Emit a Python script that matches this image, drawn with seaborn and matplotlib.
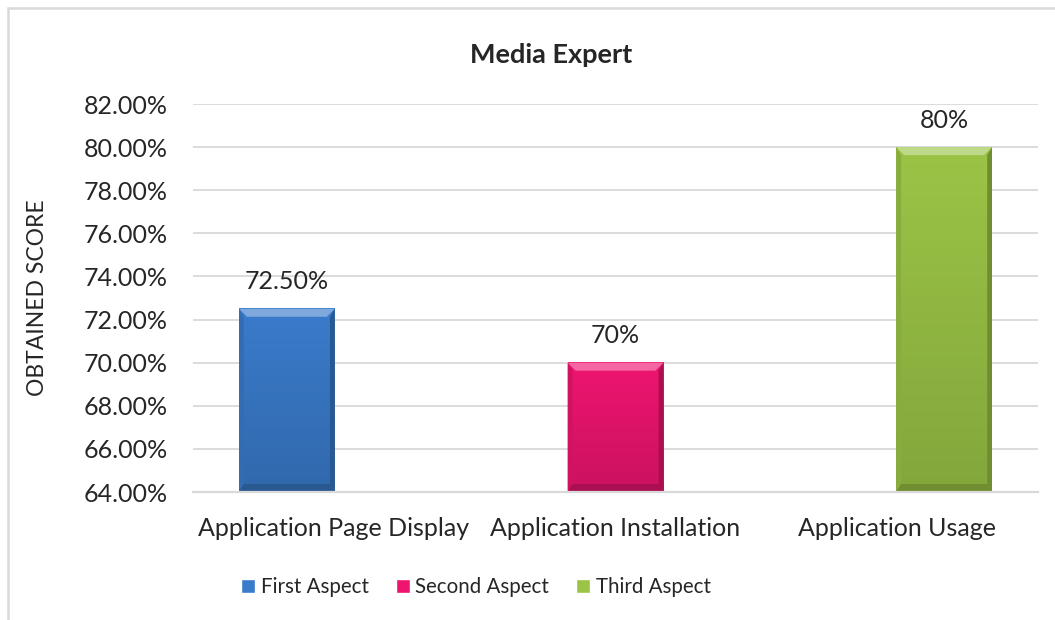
import numpy as np
import pandas as pd
import matplotlib
matplotlib.use("Agg")
import matplotlib.pyplot as plt
import matplotlib.colors as mcolors
from matplotlib.patches import Polygon, Rectangle
import seaborn as sns

# данные с картинки
categories = ["Application Page Display", "Application Installation", "Application Usage"]
aspects = ["First Aspect", "Second Aspect", "Third Aspect"]
scores = [0.725, 0.70, 0.80]
bar_labels = ["72.50%", "70%", "80%"]
y_ticks = [0.64, 0.66, 0.68, 0.70, 0.72, 0.74, 0.76, 0.78, 0.80, 0.82]

colors = ["#3A7BCB", "#EE1570", "#9BC446"]

df = pd.DataFrame({"category": categories, "aspect": aspects, "score": scores})

sns.set_theme(style="white")
plt.rcParams["font.family"] = ["Lato", "DejaVu Sans"]

fig = plt.figure(figsize=(10.55, 6.2), dpi=100)
ax = fig.add_axes([193 / 1055, 1 - 492 / 620, (1038 - 193) / 1055, (492 - 104) / 620])

sns.barplot(data=df, x="category", y="score", hue="aspect", order=categories,
            hue_order=aspects, palette=colors, dodge=True, width=0.5,
            saturation=1, ax=ax)

ax.set_ylim(0.64, 0.82)
ax.set_xlim(-0.5, 2.5)
ax.set_yticks(y_ticks)
ax.set_yticklabels([f"{v * 100:.2f}%" for v in y_ticks], fontsize=18, color="#262626")
ax.tick_params(axis="y", length=0, pad=18)
ax.tick_params(axis="x", length=0, pad=18, labelsize=18, labelcolor="#262626")
ax.set_xlabel("")
ax.set_ylabel("OBTAINED SCORE", fontsize=16.5, color="#262626")
ax.yaxis.set_label_coords(-0.172, 0.5)
ax.grid(axis="y", color="#D9D9D9", linewidth=1.3)
ax.set_axisbelow(True)
for side in ["top", "right", "left"]:
    ax.spines[side].set_visible(False)
ax.spines["bottom"].set_color("#D9D9D9")
ax.spines["bottom"].set_linewidth(1.6)

# расширяем столбцы и рисуем «скос» как в Excel
bars = sorted([p for p in ax.patches if p.get_height() > 0], key=lambda p: p.get_x())
bw = 0.34
px_x = (1038 - 193) / 3.0
px_y = (492 - 104) / 0.18
bev_x = 8 / px_x
bev_y = 8 / px_y
for bar, col, lab in zip(bars, colors, bar_labels):
    cx = bar.get_x() + bar.get_width() / 2
    bar.set_x(cx - bw / 2)
    bar.set_width(bw)
    bar.set_edgecolor("none")
    x0, x1 = cx - bw / 2, cx + bw / 2
    y0, y1 = 0.64, bar.get_y() + bar.get_height()
    base = np.array(mcolors.to_rgb(col))
    light = np.clip(base + (1 - base) * 0.35, 0, 1)
    dark = base * 0.72
    grad = np.linspace(0, 1, 64)[:, None]
    img = base[None, None, :] * (1 - 0.15 * grad[..., None]) * np.ones((64, 2, 1))
    ax.imshow(img, extent=[x0, x1, y0, y1], origin="upper", aspect="auto", zorder=2.1)
    # верхняя грань
    ax.add_patch(Polygon([[x0, y1], [x1, y1], [x1 - bev_x, y1 - bev_y], [x0 + bev_x, y1 - bev_y]],
                         facecolor=light, edgecolor="none", zorder=2.2))
    # боковые и нижняя грани
    ax.add_patch(Polygon([[x0, y1], [x0 + bev_x * 0.6, y1 - bev_y], [x0 + bev_x * 0.6, y0 + bev_y], [x0, y0]],
                         facecolor=base * 0.88, edgecolor="none", zorder=2.2))
    ax.add_patch(Polygon([[x1, y1], [x1 - bev_x * 0.6, y1 - bev_y], [x1 - bev_x * 0.6, y0 + bev_y], [x1, y0]],
                         facecolor=dark, edgecolor="none", zorder=2.2))
    ax.add_patch(Polygon([[x0, y0], [x1, y0], [x1 - bev_x * 0.6, y0 + bev_y], [x0 + bev_x * 0.6, y0 + bev_y]],
                         facecolor=dark, edgecolor="none", zorder=2.2))
    ax.annotate(lab, (cx, y1), xytext=(0, 19.5), textcoords="offset points",
                ha="center", va="center", fontsize=18, color="#262626")

sns.move_legend(ax, "center", bbox_to_anchor=(476 / 1055, 1 - 587 / 620),
                bbox_transform=fig.transFigure, ncol=3, frameon=False, title=None,
                fontsize=14.8, handlelength=0.68, handleheight=0.68,
                handletextpad=0.28, columnspacing=1.3)
for txt in ax.get_legend().get_texts():
    txt.set_color("#262626")

fig.text(551 / 1055, 1 - 55 / 620, "Media Expert", ha="center", va="center",
         fontsize=19.5, fontweight="bold", color="#262626")

# рамка диаграммы
fig.patches.append(Rectangle((8 / 1055, -0.1), 1.2, 1 - 8 / 620 + 0.1, transform=fig.transFigure,
                             fill=False, edgecolor="#D9D9D9", linewidth=1.8, zorder=0))

fig.savefig("out.png", dpi=100)
